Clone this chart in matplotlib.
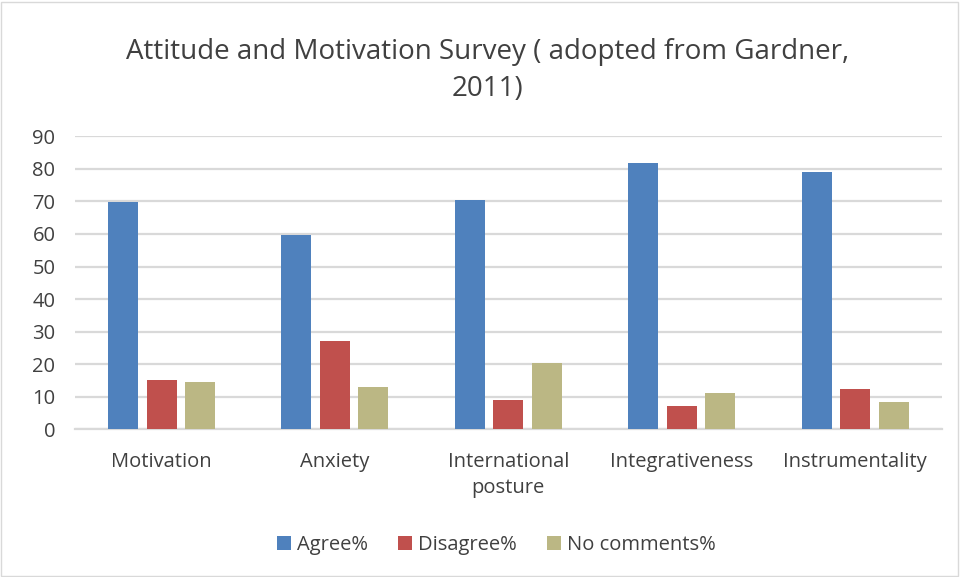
import matplotlib.pyplot as plt
import numpy as np
from matplotlib.patches import Rectangle

plt.rcParams['font.family'] = ['Open Sans', 'DejaVu Sans']

categories = ['Motivation', 'Anxiety', 'International\nposture', 'Integrativeness', 'Instrumentality']
agree = [69.7, 59.7, 70.5, 81.8, 79.1]
disagree = [15.2, 27.2, 9.0, 7.2, 12.5]
no_comments = [14.6, 13.0, 20.4, 11.1, 8.4]

fig = plt.figure(figsize=(9.6, 5.77), dpi=100)
ax = fig.add_axes([0.078, 0.256, 0.903, 0.5078])

x = np.arange(len(categories))
w = 0.173
step = 0.222
ax.bar(x - step, agree, w, color='#4F81BD', label='Agree%', zorder=3)
ax.bar(x, disagree, w, color='#C0504D', label='Disagree%', zorder=3)
ax.bar(x + step, no_comments, w, color='#BBB784', label='No comments%', zorder=3)

ax.set_xlim(-0.5, len(categories) - 0.5)
ax.set_ylim(0, 90)
ax.set_yticks(range(0, 91, 10))
ax.set_xticks(x)
ax.set_xticklabels(categories, linespacing=1.45)
ax.yaxis.grid(True, color='#D9D9D9', linewidth=1.6, zorder=0)
for s in ['top', 'right', 'left']:
    ax.spines[s].set_visible(False)
ax.spines['bottom'].set_color('#D9D9D9')
ax.spines['bottom'].set_linewidth(1.6)
ax.tick_params(axis='both', length=0, labelsize=14.5, colors='#404040')
ax.tick_params(axis='y', pad=14)
ax.tick_params(axis='x', pad=16)

fig.text(0.508, 0.878, 'Attitude and Motivation Survey ( adopted from Gardner,\n2011)',
         ha='center', va='center', fontsize=20, color='#404040', linespacing=1.4)

ax.legend(loc='center', bbox_to_anchor=(0.486, -0.395), ncol=3, frameon=False,
          fontsize=14.5, handlelength=0.7, handleheight=0.7, columnspacing=1.5,
          handletextpad=0.3, labelcolor='#404040')

fig.patches.append(Rectangle((0.001, 0.002), 0.997, 0.995, transform=fig.transFigure,
                             fill=False, edgecolor='#D9D9D9', linewidth=1))

fig.savefig('out.png', dpi=100)
